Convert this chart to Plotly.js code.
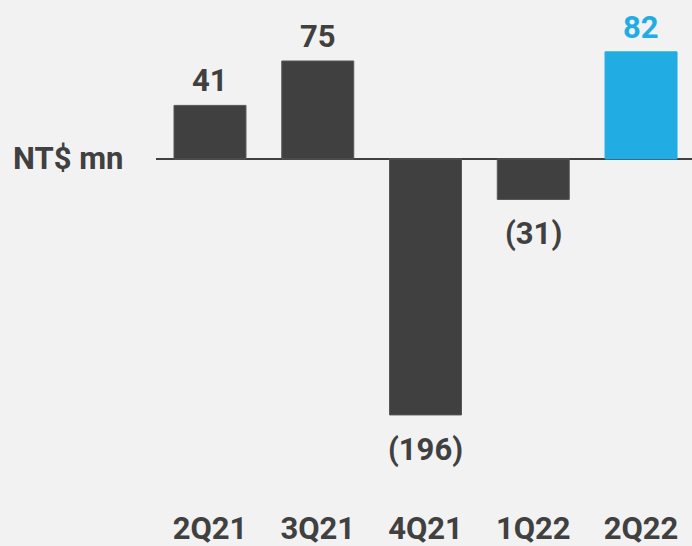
<!DOCTYPE html>
<html>
<head>
<meta charset="utf-8">
<script src="https://cdn.plot.ly/plotly-3.0.1.min.js"></script>
<style>html,body{margin:0;padding:0;background:#f2f2f2;}#chart{width:692px;height:546px;}</style>
</head>
<body>
<div id="chart"></div>
<script>
const categories = ["2Q21", "3Q21", "4Q21", "1Q22", "2Q22"];
const values = [41, 75, -196, -31, 82];
const labels = ["41", "75", "(196)", "(31)", "82"];
const unitLabel = "NT$ mn";

const DARK = "#404040";
const BLUE = "#21ade3";
const colors = values.map((v, i) => i === values.length - 1 ? BLUE : DARK);
const lineColors = values.map((v, i) => i === values.length - 1 ? BLUE : "#575757");
const FONT = "Roboto, 'Open Sans', sans-serif";

const annotations = values.map((v, i) => ({
  x: categories[i], y: v, xref: "x", yref: "y",
  text: "<b>" + labels[i] + "</b>",
  showarrow: false,
  yanchor: v >= 0 ? "bottom" : "top",
  yshift: v >= 0 ? 4 : -14,
  font: {family: FONT, size: 31, color: colors[i]}
}));
annotations.push({
  xref: "paper", yref: "y", x: -0.164, y: 0,
  text: "<b>" + unitLabel + "</b>", showarrow: false,
  xanchor: "center", yanchor: "middle",
  font: {family: FONT, size: 31, color: DARK}
});

Plotly.newPlot("chart", [{
  type: "bar",
  x: categories,
  y: values,
  marker: {color: colors, line: {color: lineColors, width: 1}},
  hoverinfo: "none"
}], {
  width: 692, height: 546,
  margin: {l: 156, r: 0, t: 0, b: 86},
  paper_bgcolor: "#f2f2f2",
  plot_bgcolor: "#f2f2f2",
  bargap: 0.332,
  showlegend: false,
  xaxis: {
    range: [-0.501, 4.473],
    showgrid: false, showline: false, zeroline: false,
    ticks: "",
    ticklabelstandoff: 47,
    tickfont: {family: FONT, size: 31, color: DARK, weight: "bold"}
  },
  yaxis: {
    range: [-230.5, 121.7],
    showgrid: false, showline: false, showticklabels: false, ticks: "",
    zeroline: true, zerolinecolor: DARK, zerolinewidth: 2
  },
  annotations: annotations
}, {staticPlot: true, displayModeBar: false});
</script>
</body>
</html>
